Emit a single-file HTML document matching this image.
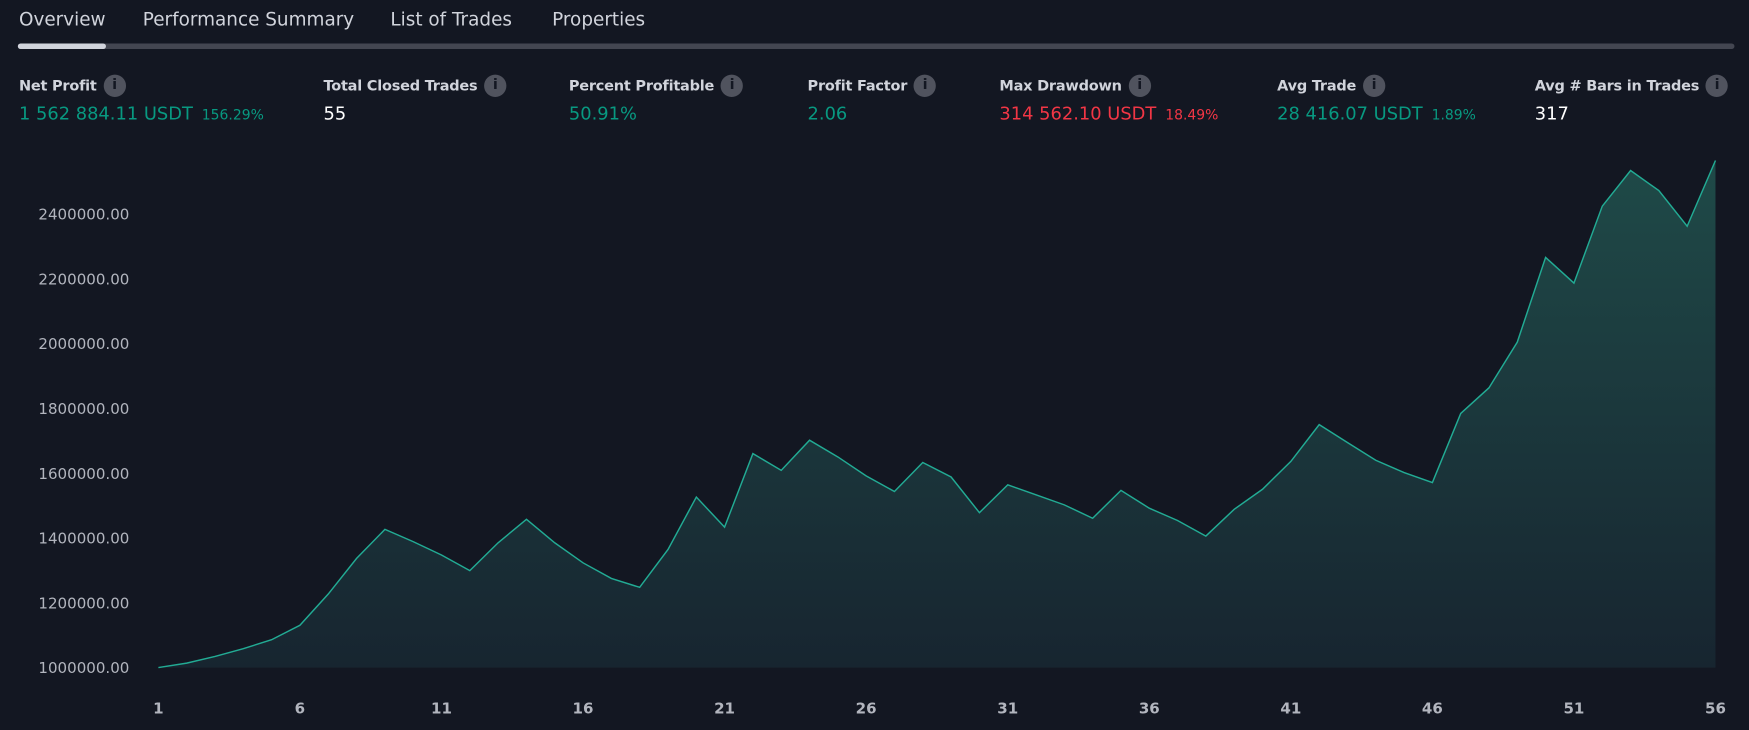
<!DOCTYPE html>
<html><head><meta charset="utf-8"><style>
html,body{margin:0;padding:0;background:#131722;overflow:hidden;width:1749px;height:730px}
#w{position:absolute;left:0;top:0;width:1568px;height:655px;transform:scale(1.1154,1.1145);transform-origin:0 0;font-family:"DejaVu Sans","Liberation Sans",sans-serif;color:#d1d4dc}
.t{position:absolute;top:8px;font-size:16.5px;color:#d1d4dc}
.bar{position:absolute;left:16px;top:39px;width:1539px;height:5px;border-radius:3px;background:#434651}
.act{position:absolute;left:16px;top:39px;width:79px;height:5px;border-radius:3px;background:#d1d4dc}
.s{position:absolute;top:67px}
.l{font-size:13px;font-weight:bold;color:#d1d4dc;white-space:nowrap;display:flex;align-items:center;letter-spacing:-0.2px}
.i{display:inline-block;width:20px;height:20px;border-radius:50%;background:#50535e;color:#131722;font-size:13px;font-weight:bold;text-align:center;line-height:20px;margin-left:6px}
.v{font-size:16px;margin-top:5px;white-space:nowrap}
.g{color:#089981}.r{color:#f23645}.w{color:#fff}
.p{font-size:12.5px;margin-left:8px}
</style></head><body><div id="w">
<div class="t" style="left:17px">Overview</div>
<div class="t" style="left:128px">Performance Summary</div>
<div class="t" style="left:350px">List of Trades</div>
<div class="t" style="left:495px">Properties</div>
<div class="bar"></div><div class="act"></div>
<div class="s" style="left:17px"><div class="l">Net Profit<span class="i">i</span></div><div class="v g">1 562 884.11 USDT<span class="p">156.29%</span></div></div>
<div class="s" style="left:290px"><div class="l">Total Closed Trades<span class="i">i</span></div><div class="v w">55</div></div>
<div class="s" style="left:510px"><div class="l">Percent Profitable<span class="i">i</span></div><div class="v g">50.91%</div></div>
<div class="s" style="left:724px"><div class="l">Profit Factor<span class="i">i</span></div><div class="v g">2.06</div></div>
<div class="s" style="left:896px"><div class="l">Max Drawdown<span class="i">i</span></div><div class="v r">314 562.10 USDT<span class="p">18.49%</span></div></div>
<div class="s" style="left:1145px"><div class="l">Avg Trade<span class="i">i</span></div><div class="v g">28 416.07 USDT<span class="p">1.89%</span></div></div>
<div class="s" style="left:1376px"><div class="l">Avg # Bars in Trades<span class="i">i</span></div><div class="v w">317</div></div>
<svg id="c" width="1568" height="655" style="position:absolute;left:0;top:0" font-family="DejaVu Sans, Liberation Sans, sans-serif">
<defs><linearGradient id="gr" x1="0" y1="0" x2="0" y2="1"><stop offset="0" stop-color="#1f4a48"/><stop offset="1" stop-color="#172530"/></linearGradient></defs>
<g id="yl" fill="#b2b5be" font-size="13.5" text-anchor="end"></g>
<g id="xl" fill="#b2b5be" font-size="13.5" font-weight="bold" text-anchor="middle"></g>
<path id="ar" fill="url(#gr)"/>
<path id="ln" fill="none" stroke="#22ab94" stroke-width="1.3"/>
</svg>
<script>
var ys=[599,595,589,582,574,561,533,501,475,486,498,512,487,466,487,505,519,527,493,446,473,407,422,395,410,427,441,415,428,460,435,444,453,465,440,456,467,481,457,439,414,381,397,413,424,433,371,348,307,231,254,185,153,171,203,144];
var d="",x0=142,st=1396/55;
ys.forEach(function(y,i){d+=(i?"L":"M")+(x0+i*st).toFixed(1)+" "+y;});
document.getElementById("ln").setAttribute("d",d);
document.getElementById("ar").setAttribute("d",d+"L1538 599L142 599Z");
var yl=document.getElementById("yl"),h="";
for(var k=0;k<8;k++){var v=1000000+k*200000;h+='<text x="116" y="'+(599-k*58.14+5).toFixed(1)+'">'+v+'.00</text>';}
yl.innerHTML=h;h="";
for(var n=1;n<=56;n+=5){h+='<text x="'+(x0+(n-1)*st).toFixed(1)+'" y="640">'+n+'</text>';}
document.getElementById("xl").innerHTML=h;
</script>
</div></body></html>
